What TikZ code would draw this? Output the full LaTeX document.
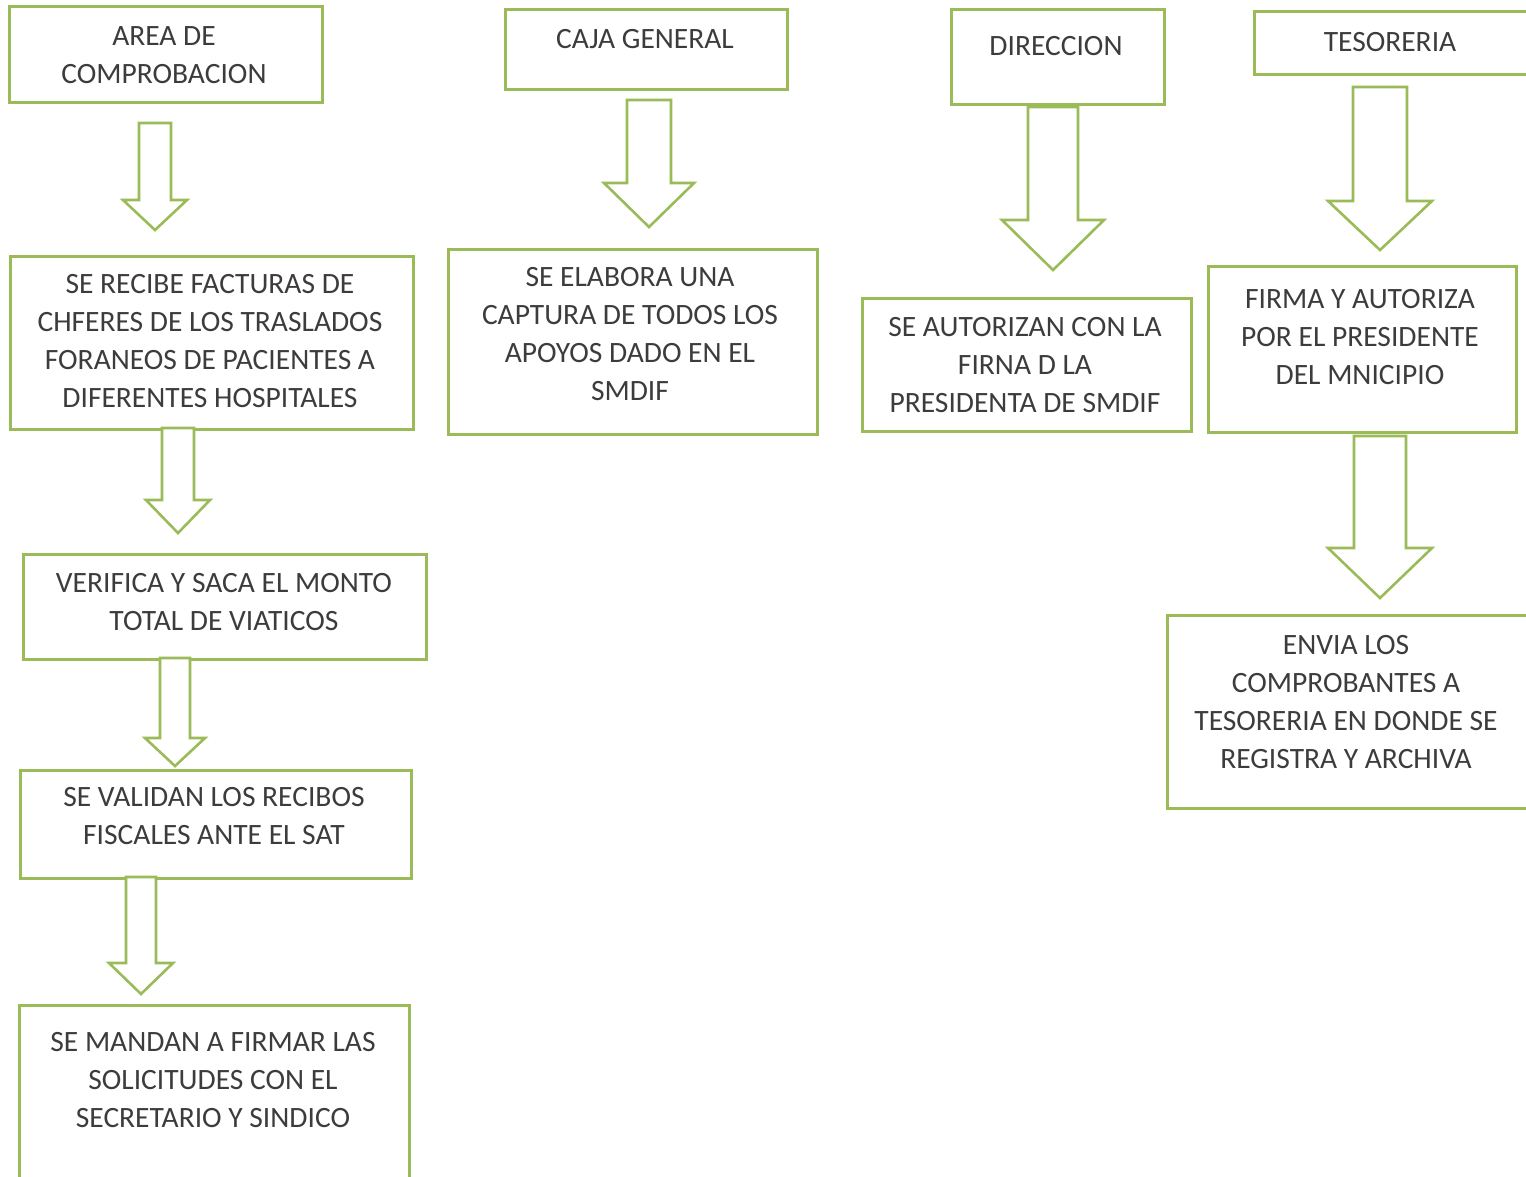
\documentclass[tikz,border=0pt]{standalone}
\usepackage{fontspec}
\setmainfont{Carlito}
\definecolor{boxgreen}{HTML}{9BBB59}
\definecolor{txtgray}{HTML}{3C3C3C}

% outlined block arrow pointing down:
% #1 centre x, #2 top y, #3 y where the head starts, #4 tip y, #5 shaft half width, #6 head half width
\newcommand\downblock[6]{%
  \draw[blockarrow] (#1-#5,#2) -- (#1-#5,#3) -- (#1-#6,#3) -- (#1,#4)
    -- (#1+#6,#3) -- (#1+#5,#3) -- (#1+#5,#2) -- cycle;}

\begin{document}
\begin{tikzpicture}[x=1pt,y=-1pt,
  box/.style={draw=boxgreen, line width=2.6pt, fill=white, rectangle, anchor=north west, inner sep=0pt},
  blockarrow/.style={draw=boxgreen, line width=2.6pt, line join=miter, fill=white},
  txt/.style={anchor=north, inner sep=0pt, align=center, text=txtgray,
    font=\fontsize{29.5}{38}\selectfont}]
\fill[white] (0,0) rectangle (1526,1176);
\clip (0,0) rectangle (1526,1176);

% column headings
\node[box, minimum width=313pt, minimum height=96pt] (area) at (8,5) {};
\node[box, minimum width=282pt, minimum height=80pt] (caja) at (504,8) {};
\node[box, minimum width=213pt, minimum height=95pt] (dir) at (950,8) {};
\node[box, minimum width=300pt, minimum height=63pt] (tes) at (1253,10) {};

\node[txt] (areaT) at (164,26) {AREA DE\\COMPROBACION};
\node[txt] (cajaT) at (645,29) {CAJA GENERAL};
\node[txt] (dirT) at (1056,36) {DIRECCION};
\node[txt] (tesT) at (1390,32) {TESORERIA};

% arrows below the headings
\downblock{155}{123}{200}{230}{16}{32}
\downblock{649}{100}{183}{227}{22}{45}
\downblock{1053}{107}{220}{270}{25}{51}
\downblock{1380}{87}{201}{250}{27}{52}

% second row
\node[box, minimum width=403pt, minimum height=173pt] (recibe) at (9,255) {};
\node[box, minimum width=369pt, minimum height=185pt] (elabora) at (447,248) {};
\node[box, minimum width=329pt, minimum height=133pt] (autorizan) at (861,297) {};
\node[box, minimum width=308pt, minimum height=166pt] (firma) at (1207,265) {};

\node[txt] (recibeT) at (210,274) {SE RECIBE FACTURAS DE\\CHFERES DE LOS TRASLADOS\\FORANEOS DE PACIENTES A\\DIFERENTES HOSPITALES};
\node[txt] (elaboraT) at (630,267) {SE ELABORA UNA\\CAPTURA DE TODOS LOS\\APOYOS DADO EN EL\\SMDIF};
\node[txt] (autorizanT) at (1025,317) {SE AUTORIZAN CON LA\\FIRNA D LA\\PRESIDENTA DE SMDIF};
\node[txt] (firmaT) at (1360,289) {FIRMA Y AUTORIZA\\POR EL PRESIDENTE\\DEL MNICIPIO};

\downblock{178}{428}{500}{533}{16}{32}
\downblock{1380}{436}{548}{598}{26}{52}

% left column continues
\node[box, minimum width=403pt, minimum height=105pt] (verifica) at (22,553) {};
\node[txt] (verificaT) at (224,573) {VERIFICA Y SACA EL MONTO\\TOTAL DE VIATICOS};

\downblock{175}{658}{738}{766}{15}{30}

\node[box, minimum width=391pt, minimum height=108pt] (validan) at (19,769) {};
\node[txt] (validanT) at (214,787) {SE VALIDAN LOS RECIBOS\\FISCALES ANTE EL SAT};

\downblock{141}{877}{963}{994}{15}{32}

\node[box, minimum width=390pt, minimum height=200pt] (mandan) at (18,1004) {};
\node[txt] (mandanT) at (213,1032) {SE MANDAN A FIRMAR LAS\\SOLICITUDES CON EL\\SECRETARIO Y SINDICO};

% right column continues
\node[box, minimum width=380pt, minimum height=193pt] (envia) at (1166,614) {};
\node[txt] (enviaT) at (1346,635) {ENVIA LOS\\COMPROBANTES A\\TESORERIA EN DONDE SE\\REGISTRA Y ARCHIVA};
\end{tikzpicture}
\end{document}
